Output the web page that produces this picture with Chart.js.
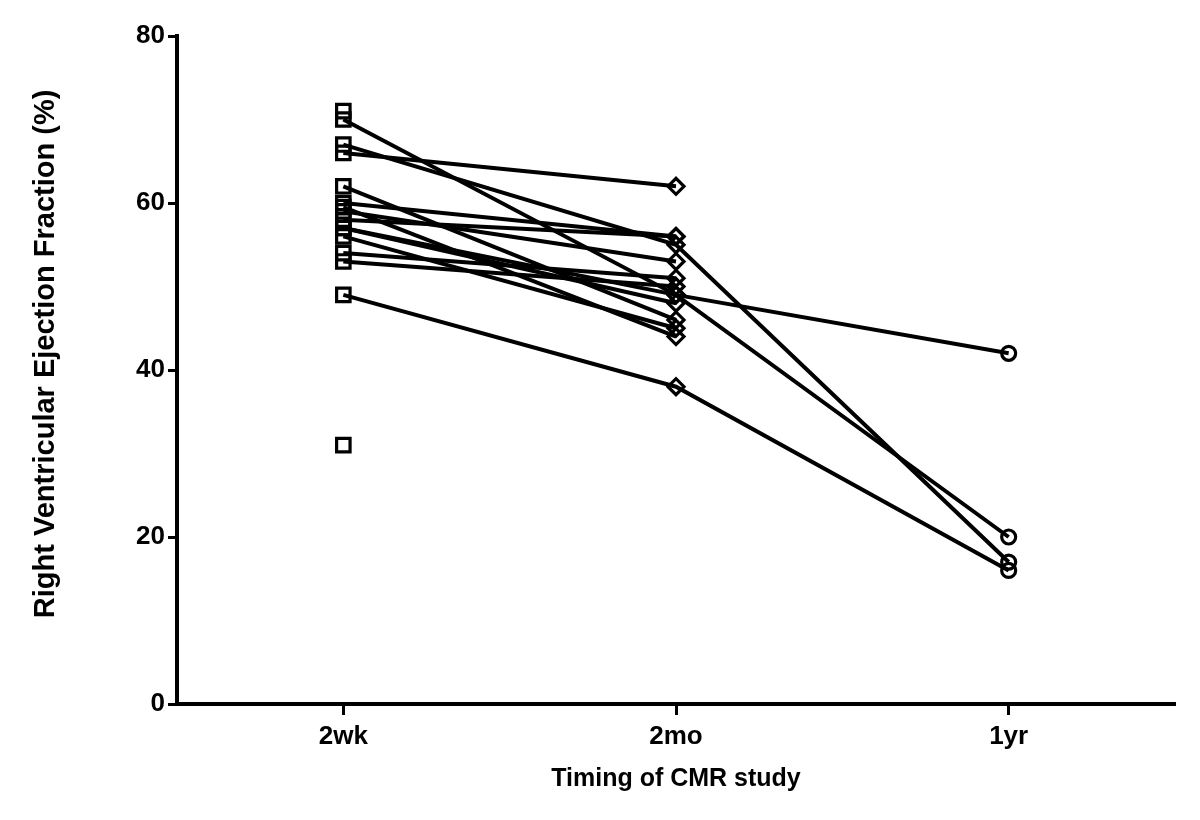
<!DOCTYPE html>
<html>
<head>
<meta charset="utf-8">
<script src="https://cdn.jsdelivr.net/npm/chart.js@4.4.1/dist/chart.umd.min.js"></script>
<style>
  html, body { margin: 0; padding: 0; background: #fff; }
  #wrap { width: 1200px; height: 820px; }
</style>
</head>
<body>
<div id="wrap"><canvas id="c" width="1200" height="820"></canvas></div>
<script>
// Tick labels of the categorical time axis
const timepoints = ['2wk', '2mo', '1yr'];
const yTicks = [0, 20, 40, 60, 80];

// Right ventricular ejection fraction (%) per subject at each time point (null = not measured)
const ef2wk = [71, 70, 67, 66, 62, 60, 59.5, 59, 58, 57, 57, 56, 54, 53, 49, 31];
const ef2mo = [null, 49, 55, 62, 46, 56, 44, 53, 56, 49, 48, 45, 51, 50, 38, null];
const ef1yr = [null, 20, 17, null, null, null, null, null, null, 42, null, null, null, null, 16, null];

const markers = ['rect', 'rectRot', 'circle'];
const markerRadius = { rect: 9.5, rectRot: 8, circle: 7 };
const series = [ef2wk, ef2mo, ef1yr];

const datasets = ef2wk.map((_, i) => {
  const data = [];
  const styles = [];
  series.forEach((arr, t) => {
    if (arr[i] !== null) { data.push({ x: t, y: arr[i] }); styles.push(markers[t]); }
  });
  return {
    data,
    pointStyle: styles,
    borderColor: '#000',
    borderWidth: 4,
    pointRadius: styles.map(s => markerRadius[s]),
    pointBorderWidth: 3.2,
    pointBorderColor: '#000',
    pointBackgroundColor: 'rgba(0,0,0,0)',
    showLine: true,
    tension: 0
  };
});

const FONT = "'Liberation Sans', Arial, sans-serif";

new Chart(document.getElementById('c'), {
  type: 'scatter',
  data: { datasets },
  options: {
    responsive: false,
    animation: false,
    devicePixelRatio: 1,
    layout: { padding: { left: 18, right: 25, top: 36, bottom: 0 } },
    plugins: { legend: { display: false }, tooltip: { enabled: false } },
    scales: {
      x: {
        type: 'linear',
        min: -0.5,
        max: 2.5,
        afterBuildTicks: s => { s.ticks = timepoints.map((_, i) => ({ value: i })); },
        afterFit: s => { s.height = 116; },
        ticks: {
          callback: v => timepoints[v],
          color: '#000',
          font: { family: FONT, size: 26, weight: 'bold' },
          padding: 6,
          maxRotation: 0
        },
        grid: { drawOnChartArea: false, tickLength: 11, tickWidth: 3, tickColor: '#000' },
        border: { color: '#000', width: 4 },
        title: {
          display: true,
          text: 'Timing of CMR study',
          color: '#000',
          font: { family: FONT, size: 25, weight: 'bold' },
          padding: { top: 0, bottom: 26 }
        }
      },
      y: {
        min: 0,
        max: 80,
        afterBuildTicks: s => { s.ticks = yTicks.map(v => ({ value: v })); },
        afterFit: s => { s.width = 159; },
        ticks: {
          color: '#000',
          font: { family: FONT, size: 26, weight: 'bold' },
          padding: 3
        },
        grid: { drawOnChartArea: false, tickLength: 9, tickWidth: 3, tickColor: '#000' },
        border: { color: '#000', width: 4 },
        title: {
          display: true,
          text: '    Right Ventricular Ejection Fraction (%)',
          color: '#000',
          font: { family: FONT, size: 29, weight: 'bold' },
          padding: { top: 11, bottom: 0 }
        }
      }
    }
  }
});
</script>
</body>
</html>
